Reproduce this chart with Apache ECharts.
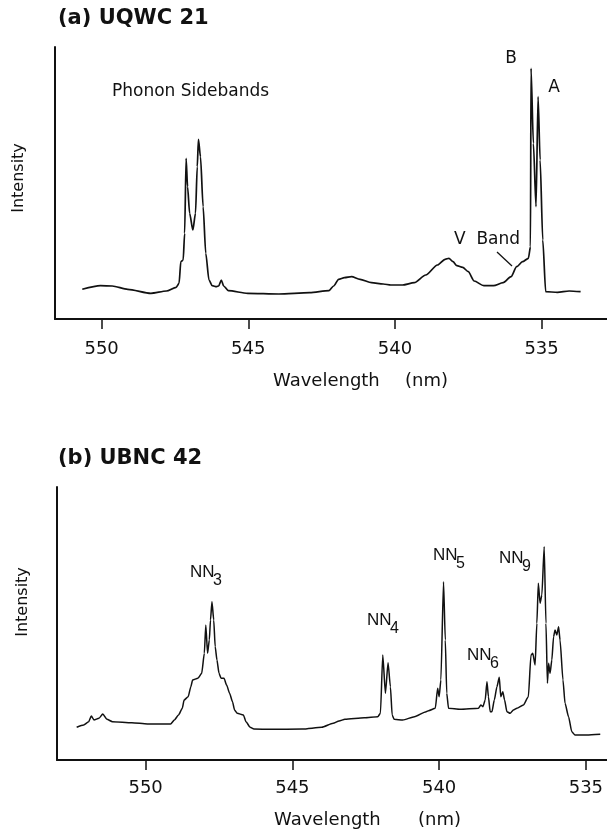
<!DOCTYPE html>
<html>
<head>
<meta charset="utf-8">
<style>
  html, body { margin: 0; padding: 0; background: #fff; }
  #chart { width: 607px; height: 835px; }
</style>
</head>
<body>
<div id="chart"></div>
<script src="https://cdn.jsdelivr.net/npm/echarts@6/dist/echarts.min.js"></script>
<script>
// (a) UQWC 21
var topWavelength = [550.66, 550.04, 549.64, 549.11, 548.32, 547.79, 547.46, 547.36, 547.30, 547.22,
    547.17, 547.12, 547.07, 547.00, 546.89, 546.80, 546.74, 546.70, 546.63, 546.54,
    546.45, 546.34, 546.23, 546.08, 546.01, 545.92, 545.84, 545.68, 545.02, 543.96,
    542.91, 542.25, 542.09, 541.92, 541.72, 541.48, 541.19, 540.80, 540.40, 540.14,
    539.74, 539.34, 538.95, 538.55, 538.29, 538.16, 538.02, 537.89, 537.69, 537.50,
    537.30, 536.97, 536.64, 536.31, 536.04, 535.85, 535.65, 535.45, 535.38, 535.36,
    535.28, 535.19, 535.12, 535.05, 534.96, 534.86, 534.46, 534.06, 533.67]
var topIntensity = [32.7, 36.3, 36.0, 32.7, 28.7, 31.0, 34.7, 38.7, 60.3, 62,
    88.7, 163.7, 135.3, 108.7, 92, 108.7, 155.3, 182.7, 165.3, 115.3,
    68.7, 42, 36.3, 35.3, 36, 42, 36, 31.3, 28.7, 28,
    29.3, 31.3, 36, 42.7, 44.3, 45.3, 42.7, 39.3, 38, 37,
    37, 39.3, 47, 57, 62.7, 63.7, 60.3, 56.3, 54.7, 50.3,
    41, 36.3, 36.3, 39.3, 45.3, 55.3, 60.3, 63.7, 75.3, 253.7,
    178.7, 115.3, 225.3, 162, 82, 30.3, 29.7, 31, 30.3]

// (b) UBNC 42
var bottomWavelength = [552.35, 552.11, 551.94, 551.85, 551.76, 551.59, 551.46, 551.32, 551.13, 550.47,
    549.94, 549.15, 549.02, 548.88, 548.75, 548.69, 548.55, 548.46, 548.40, 548.22,
    548.09, 548.00, 547.95, 547.89, 547.83, 547.79, 547.74, 547.68, 547.63, 547.57,
    547.50, 547.43, 547.33, 547.24, 547.14, 547.04, 546.97, 546.88, 546.67, 546.58,
    546.44, 546.31, 545.72, 544.66, 544.00, 543.61, 543.41, 543.21, 542.55, 542.09,
    542.00, 541.92, 541.83, 541.74, 541.66, 541.60, 541.53, 541.24, 540.84, 540.44,
    540.36, 540.13, 540.05, 540.00, 539.94, 539.85, 539.79, 539.74, 539.68, 539.28,
    538.66, 538.58, 538.51, 538.43, 538.37, 538.32, 538.26, 538.20, 538.12, 538.03,
    537.95, 537.90, 537.83, 537.77, 537.69, 537.58, 537.47, 537.35, 537.13, 536.96,
    536.87, 536.81, 536.73, 536.67, 536.62, 536.56, 536.50, 536.42, 536.36, 536.31,
    536.27, 536.22, 536.16, 536.10, 536.05, 535.99, 535.93, 535.88, 535.78, 535.71,
    535.59, 535.48, 535.37, 534.97, 534.51]
var bottomIntensity = [33.7, 36, 39.3, 45, 41, 42.7, 47, 41.7, 39.3, 38.3,
    37, 37, 41, 46, 52.7, 61, 64.3, 74.3, 81, 82.7,
    87.7, 107.7, 136, 107.7, 121, 141, 159.3, 141, 114.3, 101,
    87.7, 82.7, 82.7, 76, 67.7, 59.3, 51, 47.7, 46, 39.3,
    33.7, 32, 31.7, 32, 33.7, 37.7, 40, 41.7, 43.3, 44.3,
    47.7, 106, 67.7, 98.3, 74.3, 46, 41.7, 41, 44.3, 49.3,
    50.3, 52.7, 72.7, 64.3, 81, 179.3, 121, 67.7, 52.7, 51.7,
    52.7, 56, 54.3, 61, 79.3, 64.3, 49.3, 49.3, 61, 74.3,
    83.7, 64.3, 69.3, 61, 49.3, 47.7, 51, 52.7, 56, 64.3,
    106, 107.7, 96, 137.7, 177.7, 157.7, 166, 214.3, 137.7, 77.7,
    97.7, 87.7, 101, 124.3, 131, 126, 134.3, 121, 81, 57.7,
    44.3, 29.3, 26, 26, 26.7]

var tickValues = [535, 540, 545, 550]

function pairs(xs, ys) {
    var out = []
    for (var i = 0; i < xs.length; i++) out.push([xs[i], ys[i]])
    return out
}

var ink = '#111'
var font = '"DejaVu Sans", sans-serif'

function xAxisFor(grid, min, max, margin) {
    return {
        gridIndex: grid,
        type: 'value',
        inverse: true,
        min: min,
        max: max,
        axisLine: { onZero: false, lineStyle: { color: ink, width: 2 } },
        axisTick: { customValues: tickValues, length: 10, lineStyle: { color: ink, width: 1.5 } },
        axisLabel: { customValues: tickValues, margin: margin, fontSize: 18, color: ink, fontFamily: font },
        splitLine: { show: false }
    }
}

function yAxisFor(grid, min, max) {
    return {
        gridIndex: grid,
        type: 'value',
        min: min,
        max: max,
        axisLine: { show: true, lineStyle: { color: ink, width: 2 } },
        axisTick: { show: false },
        axisLabel: { show: false },
        splitLine: { show: false }
    }
}

function label(text, x, y, size, extra) {
    var st = { text: text, x: x, y: y, fill: ink, font: size + 'px ' + font, textVerticalAlign: 'middle' }
    for (var k in extra) st[k] = extra[k]
    return { type: 'text', style: st }
}

// NN labels with subscript digit
function nn(sub, x, y) {
    return [
        { type: 'text', style: { text: 'NN', x: x, y: y, fill: ink, font: '17px "Liberation Sans", sans-serif', textVerticalAlign: 'middle' } },
        { type: 'text', style: { text: sub, x: x + 23, y: y + 9, fill: ink, font: '16px "Liberation Sans", sans-serif', textVerticalAlign: 'middle' } }
    ]
}

var chart = echarts.init(document.getElementById('chart'), null, { renderer: 'canvas' })

var graphics = [
    { type: 'text', style: { text: '(a) UQWC 21', x: 58, y: 19, fill: ink, font: 'bold 21px ' + font, textVerticalAlign: 'middle' } },
    { type: 'text', style: { text: '(b) UBNC 42', x: 58, y: 459, fill: ink, font: 'bold 21px ' + font, textVerticalAlign: 'middle' } },
    label('Phonon Sidebands', 112, 92, 17),
    label('B', 511, 59, 17, { textAlign: 'center' }),
    label('A', 554, 88, 17, { textAlign: 'center' }),
    label('V  Band', 454, 240, 17),
    { type: 'line', shape: { x1: 497, y1: 252, x2: 512, y2: 266 }, style: { stroke: ink, lineWidth: 1.3 } },
    { type: 'text', x: 19, y: 178, rotation: Math.PI / 2, style: { text: 'Intensity', x: 0, y: 0, fill: ink, font: '16px ' + font, textAlign: 'center', textVerticalAlign: 'middle' } },
    { type: 'text', x: 23, y: 602, rotation: Math.PI / 2, style: { text: 'Intensity', x: 0, y: 0, fill: ink, font: '16px ' + font, textAlign: 'center', textVerticalAlign: 'middle' } },
    label('Wavelength', 273, 381, 18),
    label('(nm)', 405, 381, 18),
    label('Wavelength', 274, 820, 18),
    label('(nm)', 418, 820, 18)
]
graphics = graphics.concat(nn('3', 190, 572), nn('4', 367, 620), nn('5', 433, 555), nn('6', 467, 655), nn('9', 499, 558))

var option = {
    animation: false,
    backgroundColor: '#fff',
    grid: [
        { left: 55, right: 0, top: 47, height: 272 },
        { left: 57, right: 0, top: 487, height: 273 }
    ],
    xAxis: [
        xAxisFor(0, 532.77, 551.59, 21),
        xAxisFor(1, 534.28, 553.02, 19)
    ],
    yAxis: [
        yAxisFor(0, 3, 275),
        yAxisFor(1, 1, 274)
    ],
    series: [
        {
            type: 'line', xAxisIndex: 0, yAxisIndex: 0,
            data: pairs(topWavelength, topIntensity),
            showSymbol: false, smooth: 0.25, smoothMonotone: 'x',
            lineStyle: { color: ink, width: 1.7 }
        },
        {
            type: 'line', xAxisIndex: 1, yAxisIndex: 1,
            data: pairs(bottomWavelength, bottomIntensity),
            showSymbol: false, smooth: 0.2, smoothMonotone: 'x',
            lineStyle: { color: ink, width: 1.5 }
        }
    ],
    graphic: graphics
}
chart.setOption(option)
</script>
</body>
</html>
